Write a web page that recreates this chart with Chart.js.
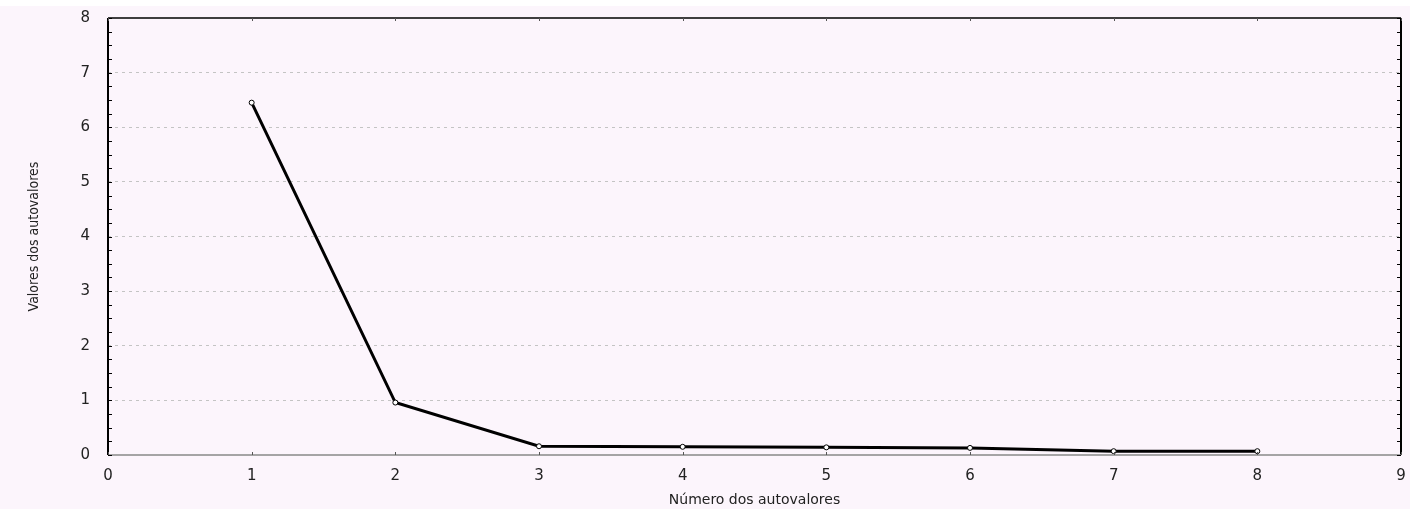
<!DOCTYPE html>
<html>
<head>
<meta charset="utf-8">
<script src="https://cdn.jsdelivr.net/npm/chart.js@4.4.0/dist/chart.umd.min.js"></script>
<style>
  html, body { margin: 0; padding: 0; background: #fcf5fc; }
  #wrap { width: 1410px; height: 509px; }
</style>
</head>
<body>
<div id="wrap"><canvas id="scree" width="1410" height="509"></canvas></div>
<script>
// eigenvalue number vs eigenvalue (scree plot)
const autovalorNum = [1, 2, 3, 4, 5, 6, 7, 8];
const autovalores = [6.45, 0.96, 0.16, 0.15, 0.14, 0.13, 0.07, 0.07];
const xTicks = [0, 1, 2, 3, 4, 5, 6, 7, 8, 9];
const yTicks = [0, 1, 2, 3, 4, 5, 6, 7, 8];
const xTitle = 'Número dos autovalores';
const yTitle = 'Valores dos autovalores';

const points = autovalorNum.map((n, i) => ({ x: n, y: autovalores[i] }));

// frame, inner minor ticks (matches the old Statistica look)
const framePlugin = {
    id: 'frame',
    afterDraw(chart) {
        const ctx = chart.ctx;
        const a = chart.chartArea;
        const ys = chart.scales.y;
        const xs = chart.scales.x;
        ctx.save();
        ctx.strokeStyle = '#000';
        ctx.lineWidth = 2;
        ctx.beginPath();
        ctx.moveTo(a.left, a.bottom);
        ctx.lineTo(a.left, a.top);
        ctx.moveTo(a.right, a.top);
        ctx.lineTo(a.right, a.bottom);
        ctx.stroke();
        ctx.lineWidth = 1.5;
        ctx.beginPath();
        ctx.moveTo(a.left, a.top);
        ctx.lineTo(a.right, a.top);
        ctx.stroke();
        ctx.strokeStyle = '#888';
        ctx.lineWidth = 1.5;
        ctx.beginPath();
        ctx.moveTo(a.left, a.bottom);
        ctx.lineTo(a.right, a.bottom);
        ctx.stroke();
        // minor ticks on left and right
        ctx.strokeStyle = '#000';
        ctx.lineWidth = 1;
        ctx.beginPath();
        for (let v = 0; v <= 8; v += 0.25) {
            const py = Math.round(ys.getPixelForValue(v)) + 0.5;
            ctx.moveTo(a.left, py);
            ctx.lineTo(a.left + 4, py);
            ctx.moveTo(a.right, py);
            ctx.lineTo(a.right - 4, py);
        }
        ctx.stroke();
        // small x ticks top and bottom
        ctx.strokeStyle = '#555';
        ctx.beginPath();
        xTicks.forEach(v => {
            const px = Math.round(xs.getPixelForValue(v)) + 0.5;
            ctx.moveTo(px, a.bottom);
            ctx.lineTo(px, a.bottom - 3);
            ctx.moveTo(px, a.top);
            ctx.lineTo(px, a.top + 3);
        });
        ctx.stroke();
        ctx.restore();
    }
};

const bgPlugin = {
    id: 'bg',
    beforeDraw(chart) {
        const ctx = chart.ctx;
        ctx.save();
        ctx.fillStyle = '#fcf5fc';
        ctx.fillRect(0, 0, chart.width, chart.height);
        ctx.fillStyle = '#ffffff';
        ctx.fillRect(0, 0, chart.width, 6);
        ctx.restore();
    }
};

const canvas = document.getElementById('scree');
new Chart(canvas, {
    type: 'line',
    data: {
        datasets: [{
            data: points,
            borderColor: '#000',
            borderWidth: 3,
            pointRadius: 2.5,
            pointBackgroundColor: '#fff',
            pointBorderColor: '#000',
            pointBorderWidth: 1,
            tension: 0,
            fill: false
        }]
    },
    options: {
        responsive: false,
        animation: false,
        layout: { padding: { top: 18, right: 9, left: 0, bottom: 0 } },
        plugins: { legend: { display: false }, tooltip: { enabled: false } },
        scales: {
            x: {
                type: 'linear',
                min: 0,
                max: 9,
                afterBuildTicks: s => { s.ticks = xTicks.map(v => ({ value: v })); },
                afterFit: s => { s.height = 54; },
                border: { display: false },
                grid: { display: false },
                ticks: {
                    color: '#222',
                    padding: 4,
                    font: { family: 'DejaVu Sans', size: 15 }
                },
                title: {
                    display: true,
                    text: xTitle,
                    color: '#222',
                    padding: { top: 2, bottom: 0 },
                    font: { family: 'DejaVu Sans', size: 14 }
                }
            },
            y: {
                type: 'linear',
                min: 0,
                max: 8,
                afterBuildTicks: s => { s.ticks = yTicks.map(v => ({ value: v })); },
                afterFit: s => { s.width = 108; s.paddingTop = 0; s.paddingBottom = 0; },
                border: { display: false, dash: [3, 4] },
                grid: {
                    color: ctx => (ctx.tick.value === 0 || ctx.tick.value === 8) ? 'rgba(0,0,0,0)' : '#c4c4c4',
                    lineWidth: 1,
                    tickLength: 0,
                    drawTicks: false
                },
                ticks: {
                    color: '#222',
                    padding: 18,
                    font: { family: 'DejaVu Sans', size: 15 }
                },
                title: {
                    display: true,
                    text: yTitle,
                    color: '#222',
                    padding: { top: 26, bottom: 0 },
                    font: { family: 'Liberation Sans Narrow, DejaVu Sans Condensed, sans-serif', size: 14 }
                }
            }
        }
    },
    plugins: [bgPlugin, framePlugin]
});
</script>
</body>
</html>
